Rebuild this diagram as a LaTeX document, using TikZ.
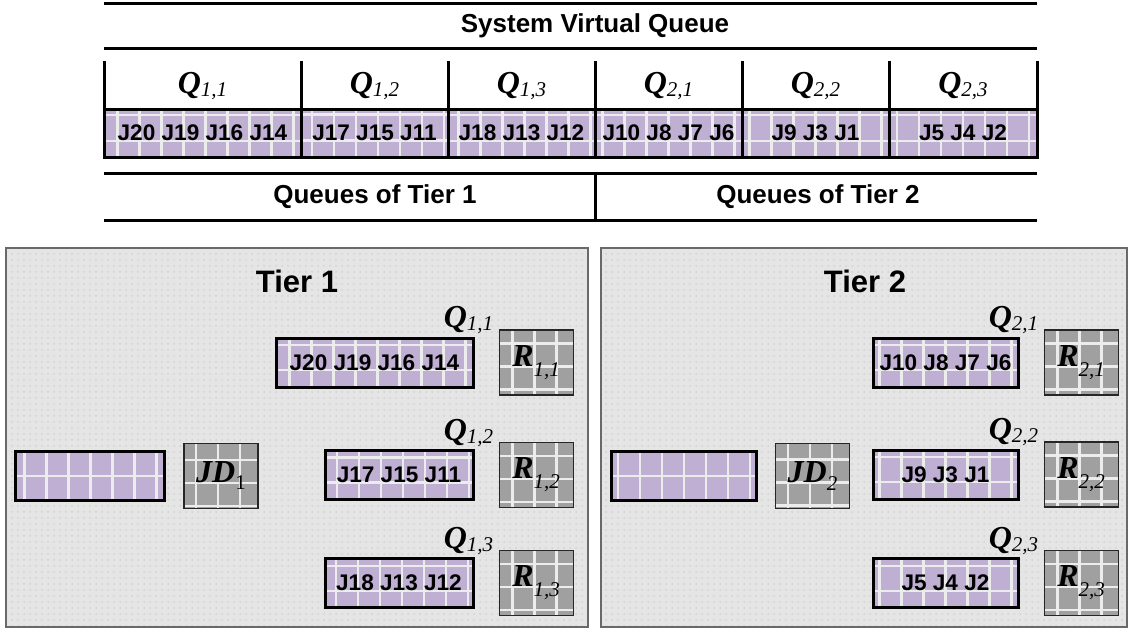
\documentclass[tikz,border=0pt]{standalone}
\usepackage{fontspec}
\setmainfont{Liberation Serif}
\setsansfont{Liberation Sans}
\usetikzlibrary{positioning, patterns}

\definecolor{jobpurple}{RGB}{191,176,211}
\definecolor{gridwhite}{RGB}{236,236,236}
\definecolor{servergray}{RGB}{160,160,160}
\definecolor{tierbg}{RGB}{229,229,229}
\definecolor{tierdot}{RGB}{210,210,210}
\definecolor{tierborder}{RGB}{105,105,105}

\newcommand{\joblabel}[1]{{\sffamily\bfseries\fontsize{11.3}{11.3}\selectfont #1}}
\newcommand{\symlabel}[3]{{\fontsize{16}{16}\selectfont\bfseries\itshape #1}{\fontsize{10.5}{10.5}\selectfont\raisebox{-#3}{#2}}}

\tikzstyle{vqrule} = [line width=1.5pt, black]
\tikzstyle{tierpanel} = [draw=tierborder, line width=1pt, preaction={fill=tierbg}, pattern=dots, pattern color=tierdot]
\tikzset{
    gridded/.style n args={4}{
        path picture={
            \draw[gridwhite, line width=1.2pt, shift={(path picture bounding box.north west)}, xshift=#3, yshift=#4]
                (path picture bounding box.south west) grid[xstep=#1, ystep=#2] (path picture bounding box.north east);
        }
    },
    vqcell/.style={
        rectangle,
        draw=black,
        line width=1.5pt,
        fill=jobpurple,
        inner sep=0pt,
        minimum height=24pt,
        gridded={11pt}{13pt}{1pt}{-3pt}
    },
    queue/.style={
        rectangle,
        draw=black,
        line width=1.5pt,
        fill=jobpurple,
        inner sep=0pt,
        minimum height=24.5pt,
        gridded={11pt}{12.5pt}{2pt}{-9.5pt}
    },
    server/.style={
        rectangle,
        draw=black!85,
        line width=0.6pt,
        fill=servergray,
        inner sep=0pt,
        minimum width=37pt,
        minimum height=32.5pt,
        gridded={11pt}{11.5pt}{1pt}{-2.5pt}
    },
    qlabel/.style={
        anchor=base,
        inner sep=0pt
    },
    tiertitle/.style={
        font=\sffamily\bfseries\fontsize{15.5}{15.5}\selectfont
    },
    vqtitle/.style={
        font=\sffamily\bfseries\fontsize{13}{13}\selectfont
    }
}

\begin{document}
\begin{tikzpicture}[x=0.5pt, y=-0.5pt]
    \useasboundingbox (0,0) rectangle (1130,632);

    % system virtual queue
    \node[vqtitle] (vqhead) at (595,26) {System Virtual Queue};
    \draw[vqrule] (104,3) -- (1037,3);
    \draw[vqrule] (104,48) -- (1037,48);
    \foreach \x in {104,301,448,595,742,889,1037}
        \draw[vqrule] (\x,61) -- (\x,110);

    \node[vqcell, minimum width=98.5pt] (vq11) at (202.5,133) {\joblabel{J20 J19 J16 J14}};
    \node[vqcell, minimum width=73.5pt] (vq12) at (374.5,133) {\joblabel{J17 J15 J11}};
    \node[vqcell, minimum width=73.5pt] (vq13) at (521.5,133) {\joblabel{J18 J13 J12}};
    \node[vqcell, minimum width=73.5pt] (vq21) at (668.5,133) {\joblabel{J10 J8 J7 J6}};
    \node[vqcell, minimum width=73.5pt] (vq22) at (815.5,133) {\joblabel{J9 J3 J1}};
    \node[vqcell, minimum width=74pt] (vq23) at (963,133) {\joblabel{J5 J4 J2}};

    \node[qlabel] (hq11) at (202.5,93) {\symlabel{Q}{\itshape 1,1}{1.5pt}};
    \node[qlabel] (hq12) at (374.5,93) {\symlabel{Q}{\itshape 1,2}{1.5pt}};
    \node[qlabel] (hq13) at (521.5,93) {\symlabel{Q}{\itshape 1,3}{1.5pt}};
    \node[qlabel] (hq21) at (668.5,93) {\symlabel{Q}{\itshape 2,1}{1.5pt}};
    \node[qlabel] (hq22) at (815.5,93) {\symlabel{Q}{\itshape 2,2}{1.5pt}};
    \node[qlabel] (hq23) at (963,93) {\symlabel{Q}{\itshape 2,3}{1.5pt}};

    \draw[vqrule] (104,173) -- (1037,173);
    \draw[vqrule] (104,220) -- (1037,220);
    \draw[vqrule] (595,173) -- (595,220);
    \node[vqtitle] (tier1queues) at (375,197) {Queues of Tier 1};
    \node[vqtitle] (tier2queues) at (818,197) {Queues of Tier 2};

    % tier 1
    \draw[tierpanel] (6,248) rectangle (588,627);
    \node[tiertitle] (tier1) at (297,281) {Tier 1};
    \node[server] (jd1) at (221,476) {\symlabel{JD}{1}{3.5pt}};
    \node[queue, left=8.5pt of jd1, minimum width=74.5pt] (buf1) {};
    \node[queue, minimum width=98.5pt] (q11) at (374.5,362.5) {\joblabel{J20 J19 J16 J14}};
    \node[queue, minimum width=74pt] (q12) at (399,475) {\joblabel{J17 J15 J11}};
    \node[queue, minimum width=74pt] (q13) at (399,583) {\joblabel{J18 J13 J12}};
    \node[server, right=12pt of q11] (r11) {\symlabel{R}{\itshape 1,1}{5pt}};
    \node[server, right=12pt of q12] (r12) {\symlabel{R}{\itshape 1,2}{5pt}};
    \node[server, right=12pt of q13] (r13) {\symlabel{R}{\itshape 1,3}{5pt}};
    \node[qlabel] (lq11) at ([xshift=-3pt, yshift=4.5pt]q11.north east) {\symlabel{Q}{\itshape 1,1}{1.5pt}};
    \node[qlabel] (lq12) at ([xshift=-3pt, yshift=4.5pt]q12.north east) {\symlabel{Q}{\itshape 1,2}{1.5pt}};
    \node[qlabel] (lq13) at ([xshift=-3pt, yshift=4.5pt]q13.north east) {\symlabel{Q}{\itshape 1,3}{1.5pt}};

    % tier 2
    \draw[tierpanel] (601,248) rectangle (1127,627);
    \node[tiertitle] (tier2) at (865,281) {Tier 2};
    \node[server] (jd2) at (812.5,476) {\symlabel{JD}{\itshape 2}{4pt}};
    \node[queue, left=8.5pt of jd2, minimum width=72.5pt] (buf2) {};
    \node[queue, minimum width=72.5pt] (q21) at (945.5,362.5) {\joblabel{J10 J8 J7 J6}};
    \node[queue, minimum width=72.5pt] (q22) at (945.5,474.5) {\joblabel{J9 J3 J1}};
    \node[queue, minimum width=72.5pt] (q23) at (945.5,583) {\joblabel{J5 J4 J2}};
    \node[server, right=12pt of q21] (r21) {\symlabel{R}{\itshape 2,1}{5pt}};
    \node[server, right=12pt of q22] (r22) {\symlabel{R}{\itshape 2,2}{5pt}};
    \node[server, right=12pt of q23] (r23) {\symlabel{R}{\itshape 2,3}{5pt}};
    \node[qlabel] (lq21) at ([xshift=-3pt, yshift=4.5pt]q21.north east) {\symlabel{Q}{\itshape 2,1}{1.5pt}};
    \node[qlabel] (lq22) at ([xshift=-3pt, yshift=4.5pt]q22.north east) {\symlabel{Q}{\itshape 2,2}{1.5pt}};
    \node[qlabel] (lq23) at ([xshift=-3pt, yshift=4.5pt]q23.north east) {\symlabel{Q}{\itshape 2,3}{1.5pt}};
\end{tikzpicture}
\end{document}
